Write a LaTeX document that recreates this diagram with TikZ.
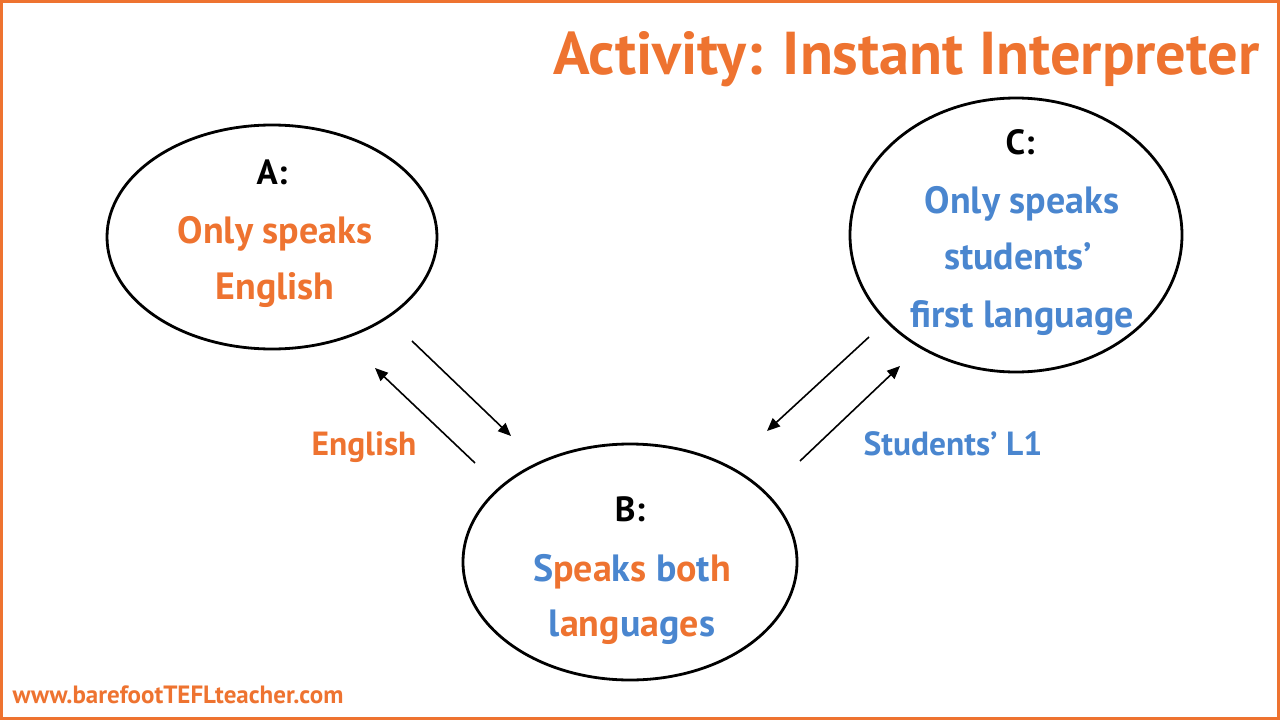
\documentclass[tikz,border=0pt]{standalone}
\usepackage{fontspec}
\setmainfont{PT Sans}
\usetikzlibrary{arrows.meta}
\definecolor{tOrange}{HTML}{EE7330}
\definecolor{tBlue}{HTML}{4A86CF}
\newcommand{\Bc}[1]{\textcolor{tBlue}{#1}}
\newcommand{\Oc}[1]{\textcolor{tOrange}{#1}}
\begin{document}
\begin{tikzpicture}[x=1pt,y=-1pt,
  bubble/.style={line width=2.8pt},
  head/.style={font=\bfseries\fontsize{35}{40}\selectfont,text=black},
  body/.style={font=\bfseries\fontsize{38}{57}\selectfont,align=center},
  lbl/.style={font=\bfseries\fontsize{33.5}{38}\selectfont},
  conn/.style={line width=1.6pt,-{Triangle[length=13pt,width=11pt]}}]
\useasboundingbox (0,0) rectangle (1280,720);
\draw[tOrange,line width=3pt] (1.5,1.5) rectangle (1278.5,718.5);
% title
\node[anchor=base east,text=tOrange,font=\bfseries\fontsize{60.5}{64}\selectfont] (title) at (1263,74) {Activity: Instant Interpreter};
% ellipses
\draw[bubble] (272,237) ellipse [x radius=165, y radius=112];
\draw[bubble] (1016,235) ellipse [x radius=166, y radius=137];
\draw[bubble] (630,562) ellipse [x radius=167, y radius=118];
% A
\node[head,anchor=base] (ah) at (272,184) {A:};
\node[body,text=tOrange,anchor=base] (a1) at (275,243) {Only speaks};
\node[body,text=tOrange,anchor=base] (a2) at (275,299) {English};
% C
\node[head,anchor=base] (ch) at (1020,154) {C:};
\node[body,text=tBlue,anchor=base] (c1) at (1022,213) {Only speaks};
\node[body,text=tBlue,anchor=base] (c2) at (1018,269) {students’};
\node[body,text=tBlue,anchor=base] (c3) at (1022,327) {first language};
% B
\node[head,anchor=base] (bh) at (630,521) {B:};
\node[body,anchor=base] (b1) at (632,581) {\Bc{S}\Oc{pea}\Bc{k}\Oc{s} \Bc{b}\Oc{o}\Bc{t}\Oc{h}};
\node[body,anchor=base] (b2) at (632,636) {\Bc{l}\Oc{ang}\Bc{u}\Oc{a}\Bc{g}\Oc{e}\Bc{s}};
% arrows
\coordinate (p1) at (475,463); \coordinate (q1) at (375,368);
\coordinate (p2) at (412,341); \coordinate (q2) at (511,436);
\coordinate (p3) at (869,337); \coordinate (q3) at (767,431);
\coordinate (p4) at (800,461); \coordinate (q4) at (900,366);
\draw[conn] (p1) -- (q1);
\draw[conn] (p2) -- (q2);
\draw[conn] (p3) -- (q3);
\draw[conn] (p4) -- (q4);
% labels
\node[lbl,text=tOrange,anchor=base] (le) at (364,455) {English};
\node[lbl,text=tBlue,anchor=base] (ls) at (953,455) {Students’ L1};
% footer
\node[anchor=base west,text=tOrange,font=\bfseries\fontsize{25}{28}\selectfont] (foot) at (9,703) {www.barefootTEFLteacher.com};
\end{tikzpicture}
\end{document}
